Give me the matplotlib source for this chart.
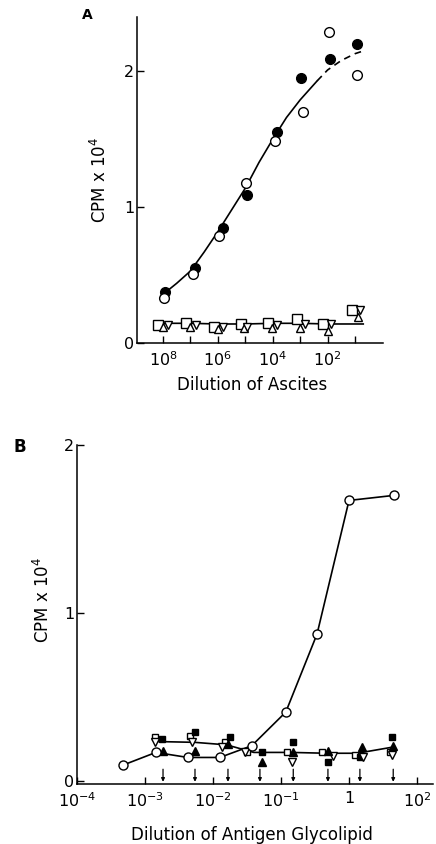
import matplotlib
matplotlib.use('Agg')
import matplotlib.pyplot as plt
import numpy as np

plt.rcParams['font.family'] = ['DejaVu Sans']
plt.rcParams['mathtext.fontset'] = 'dejavusans'

# ---------------- Panel A data (x as log10 of dilution) ----------------
a_xtick_exp = [8, 7, 6, 5, 4, 3, 2, 1]
a_xtick_labels = ['$10^8$', '', '$10^6$', '', '$10^4$', '', '$10^2$', '']
a_yticks = [0, 1, 2]

a_filled_logx = [7.93, 6.83, 5.81, 4.93, 3.84, 2.96, 1.91, 0.92]
a_filled_y = [0.375, 0.55, 0.85, 1.09, 1.55, 1.95, 2.09, 2.20]
a_open_logx = [7.96, 6.91, 5.96, 4.97, 3.91, 2.89, 1.94, 0.92]
a_open_y = [0.33, 0.51, 0.79, 1.18, 1.49, 1.70, 2.29, 1.97]

a_curve_logx = [8.05, 7.5, 7.0, 6.5, 6.0, 5.5, 5.0, 4.5, 4.0, 3.5, 3.0, 2.38]
a_curve_y = [0.35, 0.44, 0.53, 0.67, 0.82, 0.98, 1.14, 1.33, 1.50, 1.66, 1.79, 1.93]
a_dash_logx = [2.38, 2.0, 1.5, 1.0, 0.7]
a_dash_y = [1.93, 2.01, 2.08, 2.13, 2.15]

a_sq_logx = [8.18, 7.16, 6.14, 5.15, 4.17, 3.11, 2.16, 1.10]
a_sq_y = [0.13, 0.15, 0.12, 0.14, 0.15, 0.18, 0.14, 0.24]
a_tri_logx = [8.0, 7.01, 5.99, 5.04, 4.02, 3.0, 1.98, 0.88]
a_tri_y = [0.12, 0.12, 0.10, 0.11, 0.11, 0.11, 0.09, 0.19]
a_inv_logx = [7.82, 6.80, 5.81, 4.93, 3.84, 2.82, 1.87, 0.81]
a_inv_y = [0.13, 0.13, 0.12, 0.12, 0.13, 0.14, 0.14, 0.24]
a_base_logx = [8.3, 7, 6, 5, 4, 3, 2, 1, 0.7]
a_base_y = [0.145, 0.145, 0.14, 0.14, 0.145, 0.145, 0.14, 0.14, 0.14]

# ---------------- Panel B data ----------------
b_xtick_exp = [-4, -3, -2, -1, 0, 1]
b_xtick_labels = ['$10^{-4}$', '$10^{-3}$', '$10^{-2}$', '$10^{-1}$', '1', '$10^{2}$']
b_yticks = [0, 1, 2]

b_circ_logx = [-3.32, -2.84, -2.37, -1.90, -1.43, -0.93, -0.47, 0.0, 0.66]
b_circ_y = [0.095, 0.17, 0.14, 0.14, 0.21, 0.41, 0.875, 1.67, 1.70]

b_osq_logx = [-2.85, -2.34, -1.82, -1.50, -0.91, -0.40, 0.09, 0.60]
b_osq_y = [0.26, 0.27, 0.23, 0.17, 0.17, 0.17, 0.155, 0.17]
b_fsq_logx = [-2.75, -2.27, -1.75, -1.28, -0.82, -0.31, 0.16, 0.63]
b_fsq_y = [0.25, 0.29, 0.26, 0.17, 0.23, 0.11, 0.14, 0.26]
b_itri_logx = [-2.85, -2.31, -1.87, -1.53, -0.84, -0.24, 0.21, 0.63]
b_itri_y = [0.23, 0.23, 0.20, 0.17, 0.11, 0.15, 0.14, 0.155]
b_ftri_logx = [-2.74, -2.27, -1.78, -1.28, -0.82, -0.31, 0.19, 0.65]
b_ftri_y = [0.18, 0.18, 0.22, 0.11, 0.17, 0.18, 0.20, 0.21]
b_line_logx = [-2.85, -2.27, -1.80, -1.40, -0.85, -0.33, 0.12, 0.62]
b_line_y = [0.235, 0.23, 0.215, 0.17, 0.17, 0.165, 0.165, 0.20]
b_arrow_logx = [-2.735, -2.265, -1.78, -1.31, -0.82, -0.31, 0.16, 0.65]

def p10(v):
    return np.power(10.0, np.asarray(v, dtype=float))

fig = plt.figure(figsize=(4.36, 8.44), dpi=100)

FS = 11.5
LW = 1.2

def style(ax):
    ax.spines['top'].set_visible(False)
    ax.spines['right'].set_visible(False)
    for s in ('left', 'bottom'):
        ax.spines[s].set_linewidth(1.1)
    ax.tick_params(axis='both', which='major', direction='in', length=5,
                   width=1.0, labelsize=FS)
    ax.tick_params(axis='y', pad=2)
    ax.tick_params(axis='x', pad=5)
    ax.minorticks_off()

# ---------------- Panel A ----------------
axA = fig.add_axes([137/436, 1 - 343/844, 246/436, 326/844])
axA.set_xscale('log')
axA.set_xlim(10**8.95, 10**-0.02)
axA.set_ylim(0, 2.4)
style(axA)
axA.set_xticks(p10(a_xtick_exp))
axA.set_xticklabels(a_xtick_labels)
axA.minorticks_off()
axA.set_yticks(a_yticks)
axA.set_yticklabels([str(v) for v in a_yticks])

axA.plot(p10(a_curve_logx), a_curve_y, '-', color='black', lw=LW, zorder=2)
axA.plot(p10(a_dash_logx), a_dash_y, '--', color='black', lw=LW,
         dashes=(4, 3), zorder=2)
axA.plot(p10(a_base_logx), a_base_y, '-', color='black', lw=LW, zorder=2)

axA.plot(p10(a_filled_logx), a_filled_y, 'o', ms=7, mfc='black', mec='black',
         zorder=3)
axA.plot(p10(a_open_logx), a_open_y, 'o', ms=7, mfc='white', mec='black',
         mew=1.0, zorder=4)
axA.plot(p10(a_sq_logx), a_sq_y, 's', ms=6.5, mfc='white', mec='black',
         mew=1.0, zorder=3)
axA.plot(p10(a_tri_logx), a_tri_y, '^', ms=6, mfc='white', mec='black',
         mew=1.0, zorder=4)
axA.plot(p10(a_inv_logx), a_inv_y, 'v', ms=6, mfc='white', mec='black',
         mew=1.0, zorder=4)

axA.set_ylabel('CPM x 10$^4$', fontsize=FS + 0.5)
axA.yaxis.set_label_coords(-0.11, 0.5)
axA.set_xlabel('Dilution of Ascites', fontsize=FS + 0.5)
axA.xaxis.set_label_coords(0.468, -0.101)
fig.text(87/436, 1 - 15/844, 'A', fontsize=10, fontweight='bold',
         ha='center', va='center')

# ---------------- Panel B ----------------
axB = fig.add_axes([77/436, 1 - 784/844, 356/436, 339/844])
axB.set_xscale('log')
axB.set_xlim(10**-4, 10**1.235)
axB.set_ylim(-0.018, 2.0)
style(axB)
axB.set_xticks(p10(b_xtick_exp))
axB.set_xticklabels(b_xtick_labels)
axB.minorticks_off()
axB.set_yticks(b_yticks)
axB.set_yticklabels([str(v) for v in b_yticks])

axB.plot(p10(b_circ_logx), b_circ_y, '-', color='black', lw=LW, zorder=2)
axB.plot(p10(b_line_logx), b_line_y, '-', color='black', lw=LW, zorder=2)

axB.plot(p10(b_osq_logx), b_osq_y, 's', ms=5, mfc='white', mec='black',
         mew=1.0, zorder=3)
axB.plot(p10(b_fsq_logx), b_fsq_y, 's', ms=5, mfc='black', mec='black',
         zorder=3)
axB.plot(p10(b_itri_logx), b_itri_y, 'v', ms=5.5, mfc='white', mec='black',
         mew=1.0, zorder=3)
axB.plot(p10(b_ftri_logx), b_ftri_y, '^', ms=5.5, mfc='black', mec='black',
         zorder=3)
axB.plot(p10(b_circ_logx), b_circ_y, 'o', ms=6.5, mfc='white', mec='black',
         mew=1.0, zorder=5)

for lx in b_arrow_logx:
    axB.annotate('', xy=(10**lx, -0.005), xytext=(10**lx, 0.07),
                 arrowprops=dict(arrowstyle='-|>', color='black', lw=0.9,
                                 mutation_scale=5, shrinkA=0, shrinkB=0))

axB.set_ylabel('CPM x 10$^4$', fontsize=FS + 0.5)
axB.yaxis.set_label_coords(-0.067, 0.543)
axB.set_xlabel('Dilution of Antigen Glycolipid', fontsize=FS + 0.5)
axB.xaxis.set_label_coords(0.49, -0.124)
fig.text(20/436, 1 - 447/844, 'B', fontsize=12, fontweight='bold',
         ha='center', va='center')

fig.savefig('out.png', dpi=100)
